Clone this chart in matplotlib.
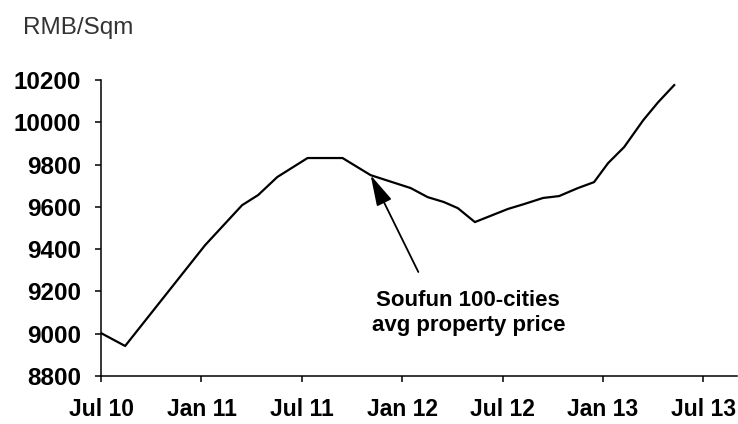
import matplotlib
matplotlib.use("Agg")
import matplotlib.pyplot as plt

# months since Jul 2010 and price in RMB/sqm
months = [0.0, 1.44, 6.22, 8.43, 9.39, 10.53, 12.34, 14.43,
          16.11, 18.50, 19.52, 20.48, 21.32, 22.34, 24.31, 25.27, 26.41,
          27.37, 28.50, 29.46, 30.30, 31.26, 32.40, 33.29, 34.25]
price = [9003, 8942, 9419, 9608, 9656, 9741, 9831, 9831,
         9750, 9689, 9646, 9623, 9594, 9528, 9590, 9613, 9642,
         9651, 9689, 9717, 9807, 9883, 10010, 10095, 10176]

tick_pos = [0, 6, 12, 18, 24, 30, 36]
tick_labels = ["Jul 10", "Jan 11", "Jul 11", "Jan 12", "Jul 12", "Jan 13", "Jul 13"]
y_ticks = [8800, 9000, 9200, 9400, 9600, 9800, 10000, 10200]

plt.rcParams["font.family"] = ["Liberation Sans", "DejaVu Sans"]

fig = plt.figure(figsize=(7.38, 4.24), dpi=100)
ax = fig.add_axes([0.1369, 0.1132, 0.8617, 0.6981])

ax.plot(months, price, color="black", lw=1.6, solid_joinstyle="round")

ax.set_xlim(0, 38)
ax.set_ylim(8800, 10200)
ax.set_xticks(tick_pos)
ax.set_xticklabels(tick_labels)
ax.set_yticks(y_ticks)
ax.tick_params(axis="both", direction="out", length=4.5, width=1.1, color="black",
               labelsize=16.5)
ax.tick_params(axis="y", pad=10, labelsize=17.5)
ax.tick_params(axis="x", pad=11)
for lbl in ax.get_xticklabels() + ax.get_yticklabels():
    lbl.set_fontweight("bold")

for side in ["top", "right"]:
    ax.spines[side].set_visible(False)
for side in ["left", "bottom"]:
    ax.spines[side].set_linewidth(1.1)
ax.spines["left"].set_bounds(8800, 10200)

# arrow pointing at the line
ax.annotate("", xy=(months[8], price[8]), xytext=(18.96, 9292),
            arrowprops=dict(arrowstyle="-|>,head_length=1.9,head_width=0.5",
                            color="black", lw=1.3, shrinkA=0, shrinkB=0))
ax.text(21.95, 9098, "Soufun 100-cities\navg property price", ha="center",
        va="center", multialignment="center", fontsize=16, fontweight="bold",
        linespacing=1.25)

fig.text(23 / 738, 1 - 28 / 424, "RMB/Sqm", ha="left", va="center",
         fontsize=17.5, color="#333333")

fig.savefig("out.png", dpi=100)
